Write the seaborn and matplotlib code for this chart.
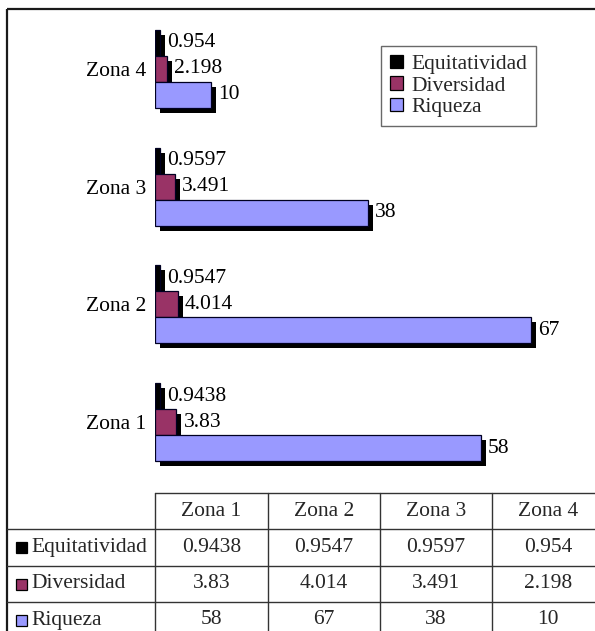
import matplotlib.pyplot as plt
import matplotlib.transforms as mtransforms
from matplotlib.patches import Patch, Rectangle
import pandas as pd
import seaborn as sns

zonas = ["Zona 1", "Zona 2", "Zona 3", "Zona 4"]
series = ["Equitatividad", "Diversidad", "Riqueza"]
equitatividad = [0.9438, 0.9547, 0.9597, 0.954]
diversidad = [3.83, 4.014, 3.491, 2.198]
riqueza = [58, 67, 38, 10]
colors = ["#000000", "#993366", "#9999FF"]

sns.set_theme(style="white")
plt.rcParams["font.family"] = ["Liberation Serif", "DejaVu Serif"]
FS = 15.5

df = pd.DataFrame({
    "zona": zonas * 3,
    "serie": [s for s in series for _ in zonas],
    "valor": equitatividad + diversidad + riqueza,
})

W, H = 595, 631
fig = plt.figure(figsize=(W / 100, H / 100), dpi=100)
fig.patch.set_facecolor("white")

# background axes in pixel coords for the frame and the data table
bg = fig.add_axes([0, 0, 1, 1])
bg.set_xlim(0, W)
bg.set_ylim(H, 0)
bg.axis("off")
bg.plot([7, 7], [9, H], color="#1a1a1a", lw=1.6, solid_capstyle="butt")
bg.plot([7, W], [9, 9], color="#1a1a1a", lw=1.6, solid_capstyle="butt")

# bars
ax = fig.add_axes([155 / W, 1 - 481 / H, 449 / W, 471 / H])
ax.patch.set_visible(False)
sns.barplot(data=df, x="valor", y="zona", hue="serie", order=zonas[::-1],
            hue_order=series, palette=colors, orient="h", width=0.664,
            saturation=1, edgecolor="#000022", linewidth=0.9, ax=ax,
            legend=False, errorbar=None)

shift = mtransforms.ScaledTranslation(5 / 100, -5 / 100, fig.dpi_scale_trans)
for bar in list(ax.patches):
    sh = Rectangle((bar.get_x(), bar.get_y()), bar.get_width(), bar.get_height(),
                   transform=ax.transData + shift, facecolor="black",
                   edgecolor="none", zorder=bar.get_zorder() - 0.5)
    ax.add_patch(sh)

for cont in ax.containers:
    ax.bar_label(cont, fmt="{:g}", padding=5, fontsize=FS, color="black")

ax.set_xlim(0, 80)
ax.set_ylim(3.5, -0.5)
ax.set_xticks([])
ax.set_xlabel("")
ax.set_ylabel("")
ax.tick_params(axis="y", length=0, pad=6.5, labelsize=FS, labelcolor="black")
for sp in ax.spines.values():
    sp.set_visible(False)

handles = [Patch(facecolor=c, edgecolor="black", lw=0.9) for c in colors]
leg = ax.legend(handles, series, loc="upper left",
                bbox_to_anchor=(381 / W, 1 - 46 / H), bbox_transform=fig.transFigure,
                frameon=True, fancybox=False, fontsize=FS, handlelength=0.6,
                handleheight=0.6, handletextpad=0.4, labelspacing=0.1,
                borderpad=0.4, borderaxespad=0)
leg.get_frame().set_edgecolor("#444444")
leg.get_frame().set_linewidth(1.0)

# data table
col_x = [155, 268, 380, 492, 604]
row_y = [493, 529, 566, 602, 638]
lc = "#333333"
bg.plot([155, W], [row_y[0], row_y[0]], color=lc, lw=1.0)
for y in row_y[1:4]:
    bg.plot([7, W], [y, y], color=lc, lw=1.0)
for x in col_x[:4]:
    bg.plot([x, x], [row_y[0], H], color=lc, lw=1.0)

for j, z in enumerate(zonas):
    cx = (col_x[j] + col_x[j + 1]) / 2
    bg.text(cx, (row_y[0] + row_y[1]) / 2, z, ha="center", va="center", fontsize=FS)

table_rows = [equitatividad, diversidad, riqueza]
for i, (name, vals, c) in enumerate(zip(series, table_rows, colors)):
    cy = (row_y[i + 1] + row_y[i + 2]) / 2
    bg.add_patch(Rectangle((16, cy - 5.5), 11, 11, facecolor=c, edgecolor="black", lw=0.9))
    bg.text(31, cy, name, ha="left", va="center", fontsize=FS)
    for j, v in enumerate(vals):
        cx = (col_x[j] + col_x[j + 1]) / 2
        bg.text(cx, cy, f"{v:g}", ha="center", va="center", fontsize=FS)

fig.savefig("out.png", dpi=100)
